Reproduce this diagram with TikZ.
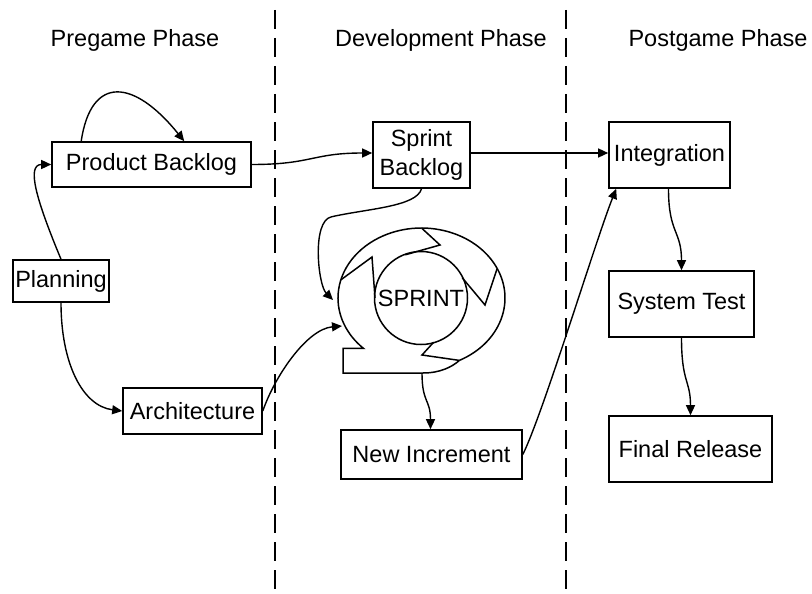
\documentclass[tikz,border=0pt]{standalone}
\usepackage{fontspec}
\setmainfont{Liberation Sans}
\usetikzlibrary{arrows.meta,calc}
\begin{document}
\begin{tikzpicture}[x=1pt,y=-1pt,
  lbl/.style={font=\fontsize{23.5}{28}\selectfont},
  box/.style={draw, line width=1.6pt, fill=white, inner sep=0pt, align=center, font=\fontsize{23.5}{29}\selectfont},
  conn/.style={line width=1.4pt, -{Triangle[length=10pt,width=9pt]}},
  phase/.style={line width=1.6pt, dash pattern=on 19pt off 9pt},
  ring/.style={line width=1.5pt, fill=white, line join=miter}]
\useasboundingbox (0,0) rectangle (812,594);
% phase separators
\draw[phase] (275,10) -- (275,594);
\draw[phase] (566,10) -- (566,594);
% titles
\node[lbl] (t1) at (135,40) {Pregame Phase};
\node[lbl] (t2) at (441,40) {Development Phase};
\node[lbl] (t3) at (718,40) {Postgame Phase};
% boxes
\node[box, minimum width=199pt, minimum height=45pt] (pb) at (151.5,164.5) {Product Backlog};
\node[box, minimum width=96pt, minimum height=42pt] (pl) at (61,281) {Planning};
\node[box, minimum width=139pt, minimum height=46pt] (ar) at (192.5,411) {Architecture};
\node[box, minimum width=97pt, minimum height=66pt] (sb) at (421.5,155) {Sprint\\Backlog};
\node[box, minimum width=181pt, minimum height=49pt] (ni) at (431.5,454.5) {New Increment};
\node[box, minimum width=121pt, minimum height=66pt] (in) at (669.5,155) {Integration};
\node[box, minimum width=145pt, minimum height=66pt] (st) at (681.5,304) {System Test};
\node[box, minimum width=163pt, minimum height=66pt] (fr) at (690.5,449) {Final Release};
% sprint ring
\draw[ring] (459.4,360.4) arc[start angle=63, end angle=-226, x radius=83.5, y radius=70]
  -- (343,348.3) -- (343,373) -- (423,373) .. controls (440,373) and (452,367) .. cycle;
\draw[ring, fill=white] (421.5,228) -- (440,245) -- (405.3,254.8);
\draw[ring, fill=white] (497.2,268.4) -- (485,305) -- (462.3,277.8);
\draw[ring, fill=white] (459.4,360.4) -- (422,355) -- (433.7,342.2);
\draw[ring, fill=white] (340.8,279.9) -- (372,257) -- (375,298);
\node[draw, circle, line width=1.5pt, minimum size=93pt, inner sep=0pt, lbl] (sprint) at (421,298) {SPRINT};
\coordinate (spin1) at (333,300);
\coordinate (spin2) at (342,326);
\coordinate (spout) at (422,373);
% connectors
\draw[conn] (pl.north) .. controls +(-25,-60) and +(-25,0) .. (pb.west);
\draw[conn] (pl.south) .. controls +(0,60) and +(-40,-5) .. (ar.west);
\draw[conn] ($(pb.north west)+(30,0)$) .. controls +(10,-67) and +(-50,-62) .. ($(pb.north west)+(133,0)$);
\draw[conn] (pb.east) .. controls +(60,0) and +(-60,0) .. ($(sb.west)+(0,-2)$);
\draw[conn] ($(sb.east)+(0,-2)$) -- ($(in.west)+(0,-2)$);
\draw[conn] (sb.south) .. controls +(-5,18) and +(35,-8) .. ++(-90,28)
  .. controls +(-20,4) and +(-15,-15) .. (spin1);
\draw[conn] (ar.east) .. controls +(12,-35) and +(-35,3) .. (spin2);
\draw[conn] (spout) .. controls +(0,30) and +(0,-30) .. ($(ni.north)+(-1,0)$);
\draw[conn] (ni.east) .. controls +(20,-40) and +(-20,50) .. ($(in.south west)+(8,0)$);
\draw[conn] ($(in.south)+(-1,0)$) .. controls +(0,45) and +(0,-40) .. (st.north);
\draw[conn] (st.south) .. controls +(0,45) and +(0,-35) .. (fr.north);
\end{tikzpicture}
\end{document}
